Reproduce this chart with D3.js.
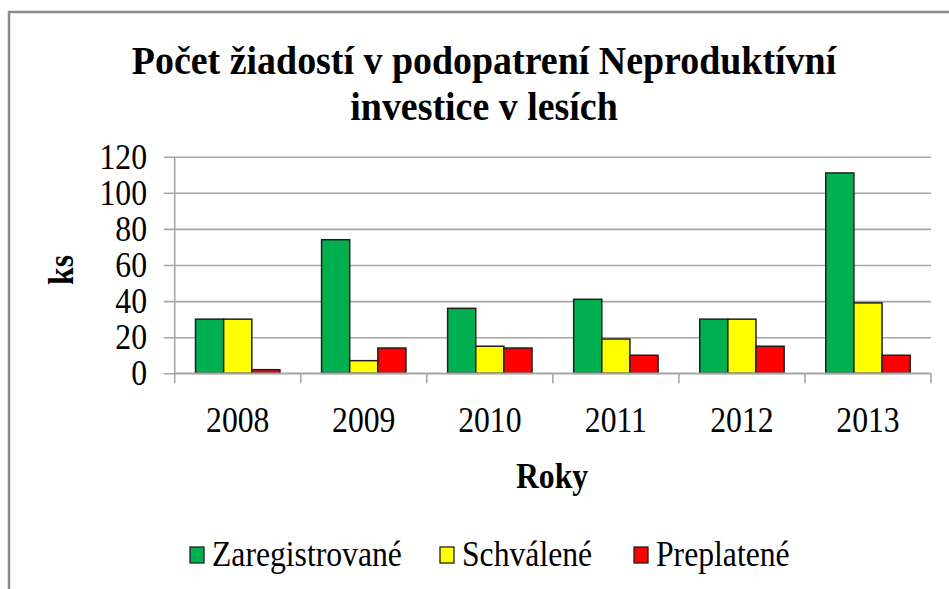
<!DOCTYPE html>
<html><head><meta charset="utf-8">
<script src="https://cdn.jsdelivr.net/npm/d3@7"></script>
<style>html,body{margin:0;padding:0;background:#fff;overflow:hidden}</style>
</head><body>
<svg id="c" width="949" height="589"></svg>
<script>
const categories = ["2008","2009","2010","2011","2012","2013"];
const seriesNames = ["Zaregistrované","Schválené","Preplatené"];
const seriesColors = ["#00B050","#FFFF00","#FF0000"];
const zaregistrovane = [30,74,36,41,30,111];
const schvalene = [30,7,15,19,30,39];
const preplatene = [2,14,14,10,15,10];
const yTicks = [0,20,40,60,80,100,120];
const titleLines = ["Počet žiadostí v podopatrení Neproduktívní","investice v lesích"];
const yTitle = "ks", xTitle = "Roky";

const values = [zaregistrovane, schvalene, preplatene];
const svg = d3.select("#c");
const font = "Liberation Serif";
const SX = 0.88;
const W = 949, H = 589;
const m = {left:174.7, right:931, top:156.7, bottom:373.3};

function label(parent, x, y, txt, size, anchor, bold, rot, sx){
  return parent.append("text")
    .attr("transform",`translate(${x},${y})` + (rot ? ` rotate(${rot})` : "") + ` scale(${sx || SX},1)`)
    .attr("text-anchor",anchor).attr("font-family",font).attr("font-size",size)
    .attr("font-weight",bold ? "bold" : "normal").attr("fill","#000").text(txt);
}

svg.append("rect").attr("x",9).attr("y",12).attr("width",W+10).attr("height",H+10)
  .attr("fill","#fff").attr("stroke","#8c8c8c").attr("stroke-width",2.5);

const x = d3.scaleBand().domain(categories).range([m.left,m.right]).paddingInner(0).paddingOuter(0);
const y = d3.scaleLinear().domain([0,120]).range([m.bottom,m.top]);
const inner = d3.scaleBand().domain(d3.range(3)).range([0,x.bandwidth()]).paddingInner(0).paddingOuter(0.74);

// gridlines via axis
const yAxis = d3.axisLeft(y).tickValues(yTicks).tickSize(-(m.right-m.left)).tickFormat("");
const gy = svg.append("g").attr("transform",`translate(${m.left},0)`).call(yAxis);
gy.select(".domain").remove();
gy.selectAll(".tick line").attr("stroke","#a6a6a6").attr("stroke-width",1.6).attr("x1",-11);
gy.selectAll(".tick text").remove();
yTicks.forEach(t=>label(svg, 147, y(t)+12, String(t), 36, "end", false));

// y axis line
svg.append("line").attr("x1",m.left).attr("x2",m.left).attr("y1",m.top).attr("y2",m.bottom)
  .attr("stroke","#a6a6a6").attr("stroke-width",1.6);

// bars
categories.forEach((c,i)=>{
  values.forEach((vals,s)=>{
    svg.append("rect")
      .attr("x",x(c)+inner(s)).attr("width",inner.bandwidth())
      .attr("y",y(vals[i])).attr("height",y(0)-y(vals[i]))
      .attr("fill",seriesColors[s]).attr("stroke","#1f1f1f").attr("stroke-width",1.5);
  });
});

// x axis
const xAxis = d3.axisBottom(x).tickSize(0).tickFormat("");
const gx = svg.append("g").attr("transform",`translate(0,${m.bottom})`).call(xAxis);
gx.select(".domain").attr("stroke","#a6a6a6").attr("stroke-width",1.6).attr("d",`M${m.left},0H${m.right}`);
gx.selectAll(".tick text").remove();
categories.forEach(c=>label(svg, x(c)+x.bandwidth()/2, 432, c, 36, "middle", false));
// category separators
const seps = categories.map(c=>x(c)).concat([m.right]);
svg.selectAll(".sep").data(seps).enter().append("line")
  .attr("x1",d=>d).attr("x2",d=>d).attr("y1",m.bottom).attr("y2",m.bottom+10)
  .attr("stroke","#a6a6a6").attr("stroke-width",1.6);

// title
label(svg, 484, 74, titleLines[0], 41, "middle", true, 0, 0.925);
label(svg, 484, 120, titleLines[1], 41, "middle", true, 0, 0.925);

// axis titles
label(svg, 73, 270, yTitle, 36, "middle", true, -90);
label(svg, 552, 488, xTitle, 36, "middle", true);

// legend
const legX = [190,440,634];
seriesNames.forEach((n,i)=>{
  svg.append("rect").attr("x",legX[i]).attr("y",547).attr("width",14).attr("height",16)
    .attr("fill",seriesColors[i]).attr("stroke","#1f1f1f").attr("stroke-width",1.3);
  label(svg, legX[i]+22, 566, n, 36, "start", false);
});
</script>
</body></html>
